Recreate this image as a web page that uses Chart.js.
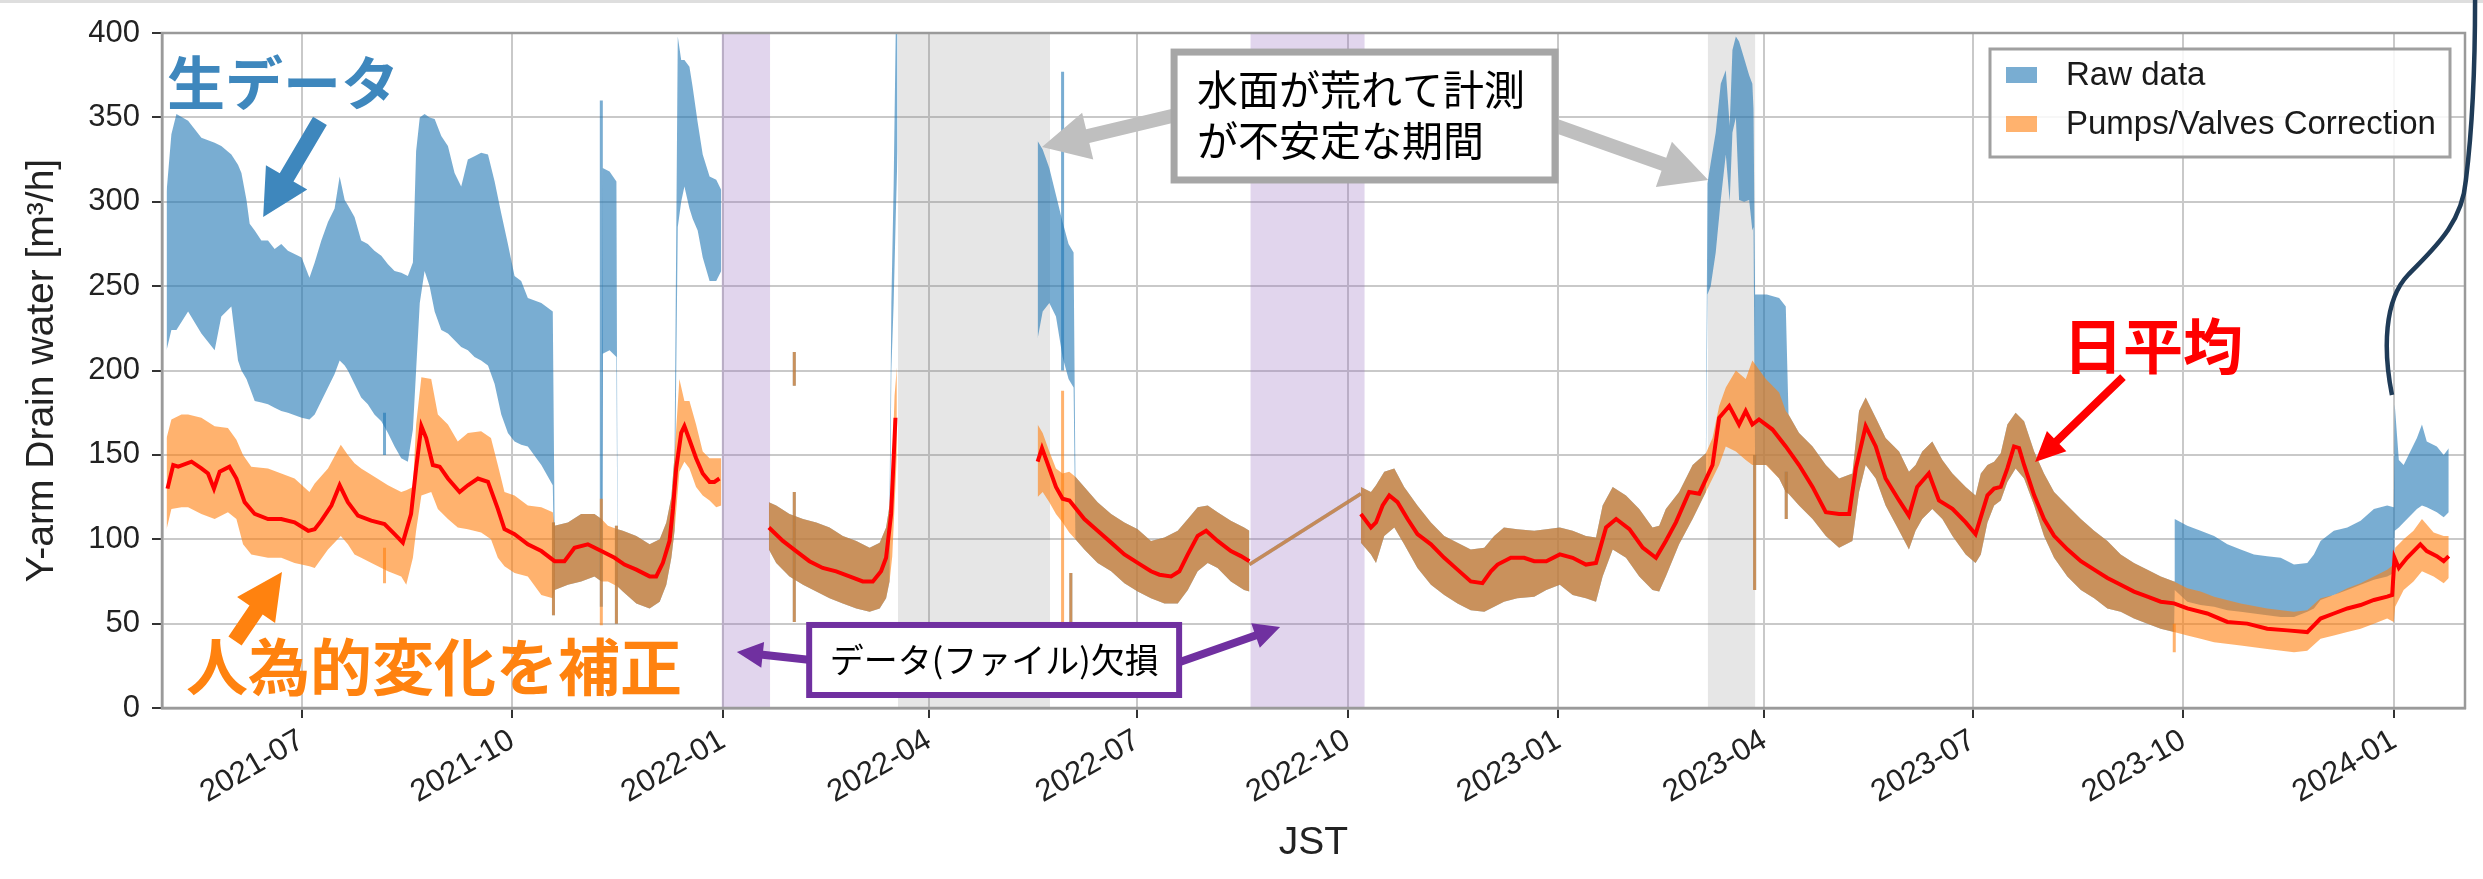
<!DOCTYPE html>
<html>
<head>
<meta charset="utf-8">
<title>Y-arm Drain water</title>
<script src="https://cdn.jsdelivr.net/npm/chart.js@4.4.1/dist/chart.umd.min.js"></script>
<style>
  html, body { margin: 0; padding: 0; background: #fff; }
  canvas { display: block; }
</style>
</head>
<body>
<canvas id="chart" width="2483" height="879"></canvas>
<script>
// all x values are days counted from 2021-07-01 (JST)
var DAY0 = Date.UTC(2021, 6, 1);
function monthDay(ym) {
    var p = ym.split('-').map(Number);
    return (Date.UTC(p[0], p[1] - 1, 1) - DAY0) / 86400000;
}

var tickLabels = ['2021-07', '2021-10', '2022-01', '2022-04', '2022-07', '2022-10',
    '2023-01', '2023-04', '2023-07', '2023-10', '2024-01'];

// Pumps/Valves Correction : lower / upper edge of the hourly trace
var corrDay = [
    -59, -56.9, -52.5, -49.6, -43.8, -38, -32.2, -28.5, -25.6, -22,
    -14.7, -8.9, -3.1, 3.4, 5.7, 11.5, 17.1, 20.2, 23.1, 26,
    31.8, 37.7, 43.5, 45.7, 48.6, 50, 52.3, 56.6, 59.5, 63.9,
    68.2, 72.6, 78.4, 82.7, 85.7, 88.6, 93, 98.8, 104.7, 109.7,
    110.5, 116.3, 122.1, 127.9, 131, 133.8, 138, 140.3, 146.2, 152,
    156.4, 159.3, 161.5, 162.9, 165, 167.2, 169.4, 172.3, 175.2, 178.2,
    181.1, 183.3, 190, 204.1, 207.3, 213.1, 219, 224.8, 230.6, 236.4,
    242.3, 248.1, 252.5, 255.3, 256.8, 258, 259, 260, 290, 321.5,
    323.7, 326.6, 329.5, 332.4, 335.3, 338, 341.9, 347.7, 353.6, 359.4,
    365.2, 371, 376.9, 382.7, 387.1, 391.4, 395.8, 400.1, 405.9, 411.7,
    414, 440, 462.7, 467.1, 469.3, 472.9, 477.3, 481.6, 487.4, 493.3,
    499.1, 504.9, 510.7, 516.6, 520.9, 525.2, 531, 538.4, 543.7, 549.6,
    555.2, 561, 565.4, 568.3, 572.7, 578.5, 584.3, 590.1, 593, 595.9,
    601.7, 607.6, 613.4, 616.3, 619.2, 622.1, 626.5, 630.8, 633.7, 639.6,
    645.4, 648.3, 649.5, 654.1, 660, 665.8, 671.6, 677.4, 680.3, 683.2,
    687.6, 691.9, 697.8, 702.1, 705, 707.9, 712.3, 716.7, 721.1, 726.9,
    731.2, 733.5, 736.4, 739.3, 742.2, 745.1, 748.7, 752.4, 756.8, 761.1,
    765.5, 771.3, 777.2, 783, 788.8, 794.6, 800.4, 806.3, 812.1, 817.9,
    823.7, 829.5, 835.4, 847, 858.6, 870.3, 876.1, 881.9, 887.7, 893.6,
    899.4, 905.2, 911, 913.9, 914.5, 918.2, 922.5, 926.2, 931.3, 935.7,
    937.9
];
var corrLow = [
    106, 118, 119, 119, 115, 112, 116, 112, 97, 91,
    89, 89, 86, 84, 83, 94, 102, 97, 91, 89,
    85, 81, 78, 73, 89, 105, 126, 128, 118, 112,
    107, 106, 104, 100, 89, 84, 80, 78, 67, 65,
    70, 73, 75, 78, 75, 75, 72, 69, 62, 59,
    63, 73, 89, 105, 140, 146, 142, 131, 126, 123,
    119, 120, null, 94, 86, 78, 73, 69, 65, 62,
    59, 57, 59, 65, 75, 90, 120, 150, null, 125,
    128, 122, 115, 110, 104, 100, 94, 86, 81, 74,
    69, 65, 62, 62, 70, 81, 86, 83, 75, 70,
    69, null, 98, 91, 86, 102, 107, 97, 83, 73,
    67, 62, 58, 57, 60, 63, 65, 66, 70, 73,
    67, 65, 63, 78, 94, 89, 78, 70, 69, 78,
    97, 112, 128, 136, 144, 155, 152, 147, 144, 144,
    136, 128, 127, 120, 112, 102, 95, 99, 128, 144,
    136, 120, 105, 94, 105, 112, 118, 112, 102, 91,
    86, 91, 110, 120, 123, 134, 142, 136, 120, 102,
    89, 78, 70, 65, 59, 57, 53, 50, 47, 45,
    43, 41, 39, 37, 35, 33, 34, 41, 43, 45,
    47, 50, 53, 51, 60, 70, 75, 81, 78, 74,
    77
];
var corrHigh = [
    160, 171, 174, 174, 172, 167, 166, 159, 150, 143,
    142, 139, 136, 128, 133, 142, 156, 150, 145, 142,
    137, 132, 128, 129, 131, 168, 196, 195, 174, 168,
    158, 163, 164, 160, 144, 128, 126, 120, 119, 116,
    108, 110, 115, 115, 112, 108, 106, 105, 102, 97,
    100, 110, 125, 150, 195, 182, 182, 168, 152, 148,
    148, 148, null, 122, 120, 115, 112, 110, 107, 102,
    99, 95, 98, 107, 120, 145, 185, 202, null, 168,
    163, 152, 142, 139, 140, 137, 131, 122, 115, 110,
    106, 99, 101, 105, 112, 119, 120, 116, 111, 107,
    105, null, 131, 128, 132, 140, 142, 131, 120, 110,
    102, 98, 94, 95, 102, 107, 106, 105, 106, 107,
    105, 102, 101, 120, 131, 126, 118, 107, 108, 118,
    128, 144, 151, 160, 179, 190, 200, 195, 206, 195,
    187, 176, 174, 163, 155, 144, 136, 139, 176, 184,
    172, 160, 152, 140, 144, 152, 158, 147, 139, 131,
    126, 139, 144, 146, 151, 168, 175, 170, 152, 139,
    128, 120, 112, 105, 99, 91, 86, 82, 78, 75,
    71, 69, 66, 62, 59, 57, 58, 65, 67, 71,
    74, 78, 82, 85, 95, 100, 105, 112, 104, 102,
    102
];

// Raw data where it differs from the corrected trace
var rawDay = [
    -59, -56.9, -54.7, -49.6, -43.8, -38, -35.1, -30.7, -27.8, -26.3,
    -24.1, -22.7, -20.5, -17.6, -14.7, -11.8, -8.9, -6, 0, 3.4,
    5.7, 8.6, 11.5, 14.4, 16.6, 18.8, 20.2, 23.1, 26, 28.9,
    31.8, 34.8, 37.7, 40.6, 43.5, 46.4, 48.6, 50, 51.6, 53.7,
    55.9, 58.1, 61, 63.9, 66.8, 69.7, 72.6, 75.5, 78.4, 81.4,
    84.3, 87.2, 90.1, 93, 95.9, 98.8, 104.7, 109.7, 131.5, 134.5,
    137.5, 164.3, 165.8, 167.2, 169.4, 170.8, 173, 175.2, 178.2, 181.1,
    183.3, 190, 257.6, 258.6, 259.5, 260.3, 290, 321.5, 323.7, 326.6,
    329.5, 332.4, 335, 337.2, 440, 614.1, 615.5, 617.7, 619.9, 622.1,
    623.8, 625, 626.5, 627.9, 630.1, 632.3, 633.7, 634.2, 634.9, 640,
    645.4, 648.3, 818.2, 823.7, 829.5, 835.4, 841.2, 847, 852.8, 858.6,
    864.5, 870.3, 876.1, 879, 881.9, 887.7, 893.6, 899.4, 905.2, 911,
    913.9, 914.3, 916.1, 918.2, 921.1, 924, 926.2, 928.3, 932.7, 935.7,
    937.9
];
var rawLow = [
    212, 224, 224, 235, 222, 212, 232, 238, 206, 200,
    195, 190, 182, 181, 180, 178, 176, 175, 172, 171,
    174, 182, 190, 198, 206, 203, 200, 192, 184, 180,
    174, 170, 163, 155, 148, 146, 165, 200, 240, 259,
    250, 235, 224, 222, 218, 214, 212, 208, 206, 203,
    192, 174, 163, 158, 156, 155, 144, 132, 210, 212,
    208, 285, 300, 309, 296, 290, 283, 267, 253, 253,
    259, null, 200, 240, 290, 330, null, 219, 235, 240,
    232, 208, 195, 190, null, 245, 250, 270, 301, 328,
    300, 341, 350, 301, 300, 301, 283, 285, 144, 144,
    136, 128, 70, 63, 61, 60, 58, 57, 56, 55,
    54, 54, 57, 59, 64, 67, 70, 73, 76, 78,
    80, 105, 107, 110, 114, 118, 120, 119, 116, 113,
    116
];
var rawHigh = [
    306, 340, 352, 348, 338, 335, 333, 328, 322, 317,
    301, 287, 283, 277, 277, 272, 275, 271, 267, 255,
    264, 277, 288, 296, 315, 301, 298, 291, 277, 275,
    271, 268, 263, 259, 258, 256, 264, 330, 350, 352,
    350, 349, 339, 333, 317, 309, 325, 327, 329, 328,
    312, 293, 275, 256, 253, 243, 240, 235, 320, 318,
    312, 398, 384, 384, 380, 368, 347, 328, 315, 313,
    307, null, 240, 310, 400, 400, null, 336, 331, 320,
    304, 288, 275, 270, null, 311, 323, 341, 370, 378,
    345, 390, 398, 395, 385, 375, 370, 355, 245, 245,
    243, 238, 112, 108, 105, 102, 97, 94, 91, 90,
    89, 85, 86, 91, 99, 105, 107, 111, 118, 120,
    119, 180, 147, 144, 152, 160, 168, 158, 155, 150,
    154
];
// periods where raw data and corrected data are the same
var sharedSpans = [[110.5, 131], [138, 162.9], [204.1, 256.8], [338, 414], [462.7, 613.4], [649.5, 817.9]];

// single readings that stick out of the band
var spikeDay  = [36.2, 36.2, 110, 130.9, 130.9, 137.5, 215.2, 215.2, 332.4, 332.4, 336, 634.7, 648.5, 818];
var spikeLow  = [150, 74, 55, 60, 49, 50, 51, 191, 200, 51, 50, 70, 112, 33];
var spikeHigh = [175, 95, 110, 360, 124, 108, 128, 211, 377, 188, 80, 150, 140, 50];
var spikeOf   = ['raw', 'corr', 'both', 'raw', 'corr', 'both', 'both', 'both', 'raw', 'corr', 'both', 'both', 'both', 'corr'];

// straight line drawn across the second file gap
var linkDay = [414, 462.7];
var linkVal = [85, 127];

// daily mean
var meanDay = [
    -58.6, -56.1, -53.9, -48.1, -43.8, -40.9, -38.3, -35.8, -31.5, -28.5,
    -24.9, -20.5, -14.7, -8.9, -3.1, 2.9, 5.7, 8.6, 13, 16.6,
    20.2, 24.6, 30.4, 36.2, 40.6, 44.2, 47.8, 50, 52.3, 54.4,
    57.3, 60.3, 63.9, 69, 72.6, 77, 81.4, 85.7, 88.6, 93,
    98.8, 104.7, 110.5, 114.8, 119.2, 125, 130.9, 136.7, 141, 146.2,
    152, 154.9, 157.8, 160.7, 162.2, 163.6, 165.8, 167.2, 169.4, 172.3,
    175.2, 178.2, 180.3, 182.5, 190, 204.1, 210.2, 216, 221.8, 227.6,
    233.5, 239.3, 245.1, 249.5, 253.1, 255.3, 257.5, 259.4, 290, 321.5,
    323.4, 326.6, 329.5, 332.4, 335.4, 341.9, 347.7, 353.6, 359.4, 365.2,
    371, 374.7, 379.8, 383.4, 387.1, 391.4, 395.1, 400.1, 405.9, 410.3,
    414, 440, 462.7, 467.1, 469.3, 472.2, 475.1, 478.7, 483.1, 487.4,
    493.3, 499.1, 504.9, 510.7, 515.8, 519.5, 522.4, 528.2, 534, 538.4,
    543.7, 549.6, 555.2, 561, 565.4, 569.8, 574.2, 580, 585.8, 591.6,
    595.9, 600.3, 606.1, 610.5, 616.3, 619.2, 623.6, 627.9, 630.8, 633.7,
    636.6, 642.5, 648.3, 654.1, 660, 665.8, 671.6, 676, 678.9, 683.2,
    687.6, 691.9, 697.8, 702.1, 705.7, 710.8, 715.2, 721.1, 726.9, 731.2,
    736.4, 739.3, 742.2, 745.1, 748, 750.2, 752.4, 756.8, 761.1, 765.5,
    771.3, 777.2, 783, 788.8, 794.6, 800.4, 806.3, 812.1, 817.9, 823.7,
    832.4, 841.2, 849.9, 858.6, 867.4, 876.1, 881.9, 887.7, 893.6, 899.4,
    905.2, 911, 913.2, 914.2, 916.1, 919.7, 925.5, 928.3, 932.7, 935.7,
    937.9
];
var meanVal = [
    130, 144, 143, 146, 142, 139, 130, 140, 143, 136,
    122, 115, 112, 112, 110, 105, 106, 111, 120, 132,
    122, 114, 111, 109, 103, 98, 115, 142, 167, 160,
    144, 143, 136, 128, 132, 136, 134, 118, 106, 103,
    97, 93, 87, 87, 95, 97, 93, 89, 85, 82,
    78, 78, 86, 99, 118, 142, 163, 167, 159, 148,
    139, 134, 134, 136, null, 107, 99, 93, 87, 83,
    81, 78, 75, 75, 81, 89, 115, 172, null, 146,
    154, 142, 131, 124, 123, 112, 105, 98, 91, 86,
    81, 79, 78, 81, 91, 102, 105, 99, 93, 90,
    87, null, 115, 107, 110, 120, 126, 122, 112, 103,
    97, 89, 82, 75, 74, 81, 85, 89, 89, 87,
    87, 91, 89, 85, 86, 107, 112, 106, 95, 89,
    99, 110, 128, 127, 144, 172, 179, 168, 176, 168,
    171, 165, 155, 144, 131, 116, 115, 115, 142, 167,
    155, 136, 123, 114, 131, 139, 123, 118, 110, 103,
    126, 130, 131, 142, 155, 154, 144, 126, 112, 102,
    94, 87, 82, 77, 73, 69, 66, 63, 62, 59,
    56, 51, 50, 47, 46, 45, 53, 56, 59, 61,
    64, 66, 67, 89, 83, 89, 97, 93, 90, 87,
    90
];

// shaded periods
var missingSpans = [[183.5, 204.6], [414.5, 464.3]];   // data (file) missing
var unstableSpans = [[260.5, 326.9], [614.3, 634.9]];  // rough water surface

var RAW = 'rgba(31,119,180,0.6)';
var CORR = 'rgba(255,127,14,0.6)';
var SANS = '"Liberation Sans", Arial, sans-serif';
var JP = '"Noto Sans CJK JP", "Noto Sans CJK SC", sans-serif';

// raw band = own readings + corrected readings inside the shared periods
var rawPts = rawDay.map(function(d, i) { return { x: d, lo: rawLow[i], hi: rawHigh[i] }; });
corrDay.forEach(function(d, i) {
    var shared = sharedSpans.some(function(s) { return d >= s[0] && d <= s[1]; });
    if (shared) rawPts.push({ x: d, lo: corrLow[i], hi: corrHigh[i] });
});
rawPts.sort(function(a, b) { return a.x - b.x; });
var corrPts = corrDay.map(function(d, i) { return { x: d, lo: corrLow[i], hi: corrHigh[i] }; });

function edge(pts, key) {
    return pts.map(function(p) { return { x: p.x, y: p[key] }; });
}
function spikes(kind) {
    var out = [];
    spikeDay.forEach(function(d, i) {
        if (spikeOf[i] === kind || spikeOf[i] === 'both') {
            out.push({ x: d, y: spikeLow[i] }, { x: d, y: spikeHigh[i] }, { x: d, y: null });
        }
    });
    return out;
}
var linkData = linkDay.map(function(d, i) { return { x: d, y: linkVal[i] }; });
var meanData = meanDay.map(function(d, i) { return { x: d, y: meanVal[i] }; });

function arrow(ctx, p, q, shaft, headLen, headW, color) {
    var dx = q[0] - p[0], dy = q[1] - p[1], len = Math.hypot(dx, dy);
    var ux = dx / len, uy = dy / len, nx = -uy, ny = ux;
    var bx = q[0] - ux * headLen, by = q[1] - uy * headLen;
    ctx.beginPath();
    ctx.moveTo(p[0] + nx * shaft / 2, p[1] + ny * shaft / 2);
    ctx.lineTo(bx + nx * shaft / 2, by + ny * shaft / 2);
    ctx.lineTo(bx + nx * headW / 2, by + ny * headW / 2);
    ctx.lineTo(q[0], q[1]);
    ctx.lineTo(bx - nx * headW / 2, by - ny * headW / 2);
    ctx.lineTo(bx - nx * shaft / 2, by - ny * shaft / 2);
    ctx.lineTo(p[0] - nx * shaft / 2, p[1] - ny * shaft / 2);
    ctx.closePath();
    ctx.fillStyle = color;
    ctx.fill();
}

var overlay = {
    id: 'overlay',
    beforeDatasetsDraw: function(chart) {
        var ctx = chart.ctx, a = chart.chartArea, xs = chart.scales.x;
        ctx.save();
        function shade(spans, color) {
            spans.forEach(function(s) {
                var x0 = xs.getPixelForValue(s[0]), x1 = xs.getPixelForValue(s[1]);
                ctx.fillStyle = color;
                ctx.fillRect(x0, a.top, x1 - x0, a.bottom - a.top);
            });
        }
        shade(unstableSpans, 'rgba(128,128,128,0.2)');
        shade(missingSpans, 'rgba(148,103,189,0.28)');
        ctx.restore();
    },
    afterDatasetsDraw: function(chart) {
        var ctx = chart.ctx, a = chart.chartArea, xs = chart.scales.x, ys = chart.scales.y;
        function pt(d, v) { return [xs.getPixelForValue(d), ys.getPixelForValue(v)]; }
        ctx.save();

        // frame
        ctx.strokeStyle = '#9a9a9a';
        ctx.lineWidth = 2.5;
        ctx.strokeRect(a.left, a.top, a.right - a.left, a.bottom - a.top);

        ctx.textBaseline = 'middle';
        // 生データ
        arrow(ctx, pt(8.0, 347.9), pt(-16.8, 291.0), 16, 46, 48, '#3e87bd');
        ctx.fillStyle = '#3e87bd';
        ctx.font = 'bold 58px ' + JP;
        ctx.textAlign = 'left';
        var p = pt(-58.8, 370.4);
        ctx.fillText('生データ', p[0], p[1]);

        // 人為的変化を補正
        arrow(ctx, pt(-29.1, 39.7), pt(-8.6, 80.6), 16, 46, 46, '#ff820f');
        ctx.fillStyle = '#ff820f';
        ctx.font = 'bold 62px ' + JP;
        p = pt(-50.5, 24.3);
        ctx.fillText('人為的変化を補正', p[0], p[1]);

        // 日平均
        arrow(ctx, pt(795.6, 196.1), pt(757.2, 145.8), 8, 30, 28, '#ff0000');
        ctx.fillStyle = '#ff0000';
        ctx.font = 'bold 60px ' + JP;
        p = pt(769.4, 214.5);
        ctx.fillText('日平均', p[0], p[1]);

        // unstable period note
        arrow(ctx, pt(382, 351.4), pt(323.4, 332.4), 14, 47, 48, '#bfbfbf');
        arrow(ctx, pt(546.7, 345.5), pt(614.4, 312.9), 14, 47, 48, '#bfbfbf');
        var b0 = pt(381.1, 388.7), b1 = pt(547.5, 312.9);
        ctx.fillStyle = '#fff';
        ctx.fillRect(b0[0], b0[1], b1[0] - b0[0], b1[1] - b0[1]);
        ctx.strokeStyle = '#a6a6a6';
        ctx.lineWidth = 7;
        ctx.strokeRect(b0[0], b0[1], b1[0] - b0[0], b1[1] - b0[1]);
        ctx.fillStyle = '#000';
        ctx.font = '41px ' + JP;
        ctx.fillText('水面が荒れて計測', b0[0] + 23, b0[1] + 37);
        ctx.fillText('が不安定な期間', b0[0] + 23, b0[1] + 88);

        // missing data note
        arrow(ctx, pt(222.4, 28.4), pt(190.1, 33.2), 8, 26, 26, '#7030a0');
        arrow(ctx, pt(382.4, 26.7), pt(427.4, 48), 8, 26, 26, '#7030a0');
        b0 = pt(221.7, 49.2); b1 = pt(383.3, 7.7);
        ctx.fillStyle = '#fff';
        ctx.fillRect(b0[0], b0[1], b1[0] - b0[0], b1[1] - b0[1]);
        ctx.strokeStyle = '#7030a0';
        ctx.lineWidth = 6;
        ctx.strokeRect(b0[0], b0[1], b1[0] - b0[0], b1[1] - b0[1]);
        ctx.fillStyle = '#000';
        ctx.font = '34px ' + JP;
        ctx.textAlign = 'center';
        ctx.fillText('データ(ファイル)欠損', (b0[0] + b1[0]) / 2, (b0[1] + b1[1]) / 2);

        // legend
        var lx = a.right - 475, ly = a.top + 16;
        ctx.fillStyle = 'rgba(255,255,255,0.85)';
        ctx.fillRect(lx, ly, 460, 108);
        ctx.strokeStyle = '#a0a0a0';
        ctx.lineWidth = 3;
        ctx.strokeRect(lx, ly, 460, 108);
        ctx.fillStyle = RAW;
        ctx.fillRect(lx + 16, ly + 18, 31, 16);
        ctx.fillStyle = CORR;
        ctx.fillRect(lx + 16, ly + 67, 31, 16);
        ctx.fillStyle = '#1a1a1a';
        ctx.textAlign = 'left';
        ctx.font = '33px ' + SANS;
        ctx.fillText('Raw data', lx + 76, ly + 27);
        ctx.fillText('Pumps/Valves Correction', lx + 76, ly + 76);
        ctx.restore();
    },
    afterDraw: function(chart) {
        var ctx = chart.ctx, xs = chart.scales.x, ys = chart.scales.y;
        function pt(d, v) { return [xs.getPixelForValue(d), ys.getPixelForValue(v)]; }
        ctx.save();
        ctx.fillStyle = '#dedede';
        ctx.fillRect(0, 0, chart.width, 3);
        // connector running off the top of the figure
        var p0 = pt(913.1, 185.5), c1 = pt(909.2, 212.1), c2 = pt(909.6, 241.8), p1 = pt(920.1, 256.6),
            c3 = pt(930.6, 271.4), c4 = pt(943.7, 286.2), p2 = pt(945.4, 312.9),
            c5 = pt(948.1, 342.5), c6 = pt(949.4, 384), p3 = pt(949.4, 419.6);
        ctx.beginPath();
        ctx.moveTo(p0[0], p0[1]);
        ctx.bezierCurveTo(c1[0], c1[1], c2[0], c2[1], p1[0], p1[1]);
        ctx.bezierCurveTo(c3[0], c3[1], c4[0], c4[1], p2[0], p2[1]);
        ctx.bezierCurveTo(c5[0], c5[1], c6[0], c6[1], p3[0], p3[1]);
        ctx.strokeStyle = '#1f3b57';
        ctx.lineWidth = 4.5;
        ctx.stroke();
        ctx.restore();
    }
};

Chart.defaults.font.family = SANS;
var tickDays = tickLabels.map(monthDay);
var tickFont = { family: SANS, size: 31 };
var titleFont = { family: SANS, size: 39, lineHeight: 1.2 };
var gridOpts = { color: '#c9c9c9', lineWidth: 2, tickColor: '#333', tickLength: 10, tickWidth: 2 };

var config = {
    type: 'line',
    data: {
        datasets: [
            { label: 'raw low', data: edge(rawPts, 'lo'), borderColor: 'transparent', pointRadius: 0, fill: false, order: 6 },
            { label: 'Raw data', data: edge(rawPts, 'hi'), borderColor: 'transparent', pointRadius: 0, fill: '-1', backgroundColor: RAW, order: 6 },
            { label: 'corr low', data: edge(corrPts, 'lo'), borderColor: 'transparent', pointRadius: 0, fill: false, order: 5 },
            { label: 'Pumps/Valves Correction', data: edge(corrPts, 'hi'), borderColor: 'transparent', pointRadius: 0, fill: '-1', backgroundColor: CORR, order: 5 },
            { label: 'raw spikes', data: spikes('raw'), borderColor: RAW, borderWidth: 3, pointRadius: 0, fill: false, order: 4 },
            { label: 'corr spikes', data: spikes('corr'), borderColor: CORR, borderWidth: 3, pointRadius: 0, fill: false, order: 3 },
            { label: 'raw link', data: linkData, borderColor: RAW, borderWidth: 3.5, pointRadius: 0, fill: false, order: 4 },
            { label: 'corr link', data: linkData, borderColor: CORR, borderWidth: 3.5, pointRadius: 0, fill: false, order: 3 },
            { label: '日平均', data: meanData, borderColor: '#ff0000', borderWidth: 4, pointRadius: 0, fill: false, order: 1 }
        ]
    },
    options: {
        responsive: false,
        animation: false,
        devicePixelRatio: 1,
        layout: { padding: { top: 33, right: 18, left: 0, bottom: 0 } },
        plugins: { legend: { display: false }, tooltip: { enabled: false } },
        scales: {
            x: {
                type: 'linear',
                min: monthDay('2021-05'),
                max: monthDay('2024-02'),
                afterBuildTicks: function(s) { s.ticks = tickDays.map(function(d) { return { value: d }; }); },
                afterFit: function(s) { s.height = 171; },
                ticks: {
                    autoSkip: false, minRotation: 30, maxRotation: 30, padding: 4,
                    font: tickFont, color: '#222',
                    callback: function(v) { var i = tickDays.indexOf(v); return i < 0 ? '' : tickLabels[i]; }
                },
                grid: gridOpts,
                border: { color: '#9a9a9a', width: 2.5 },
                title: { display: true, text: 'JST', font: titleFont, color: '#222', padding: { top: 0, bottom: 12 } }
            },
            y: {
                min: 0,
                max: 400,
                afterFit: function(s) { s.width = 162; },
                ticks: { stepSize: 50, padding: 12, font: tickFont, color: '#222' },
                grid: gridOpts,
                border: { color: '#9a9a9a', width: 2.5 },
                title: { display: true, text: 'Y-arm Drain water [m³/h]', font: titleFont, color: '#222', padding: { top: 19, bottom: 0 } }
            }
        }
    },
    plugins: [overlay]
};

window.onload = function() {
    var ctx = document.getElementById('chart').getContext('2d');
    window.drainChart = new Chart(ctx, config);
};
</script>
</body>
</html>
